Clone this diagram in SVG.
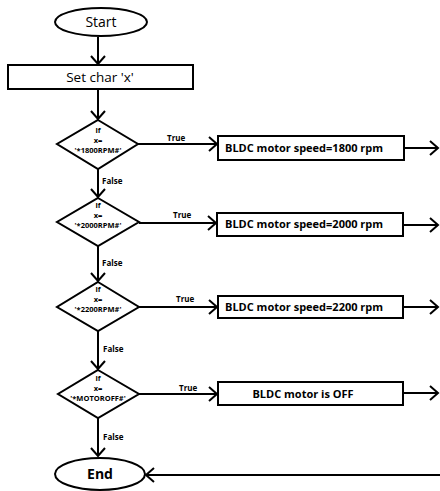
<svg xmlns="http://www.w3.org/2000/svg" width="440" height="491" viewBox="0 0 440 491">
<style>
.s{fill:#fff;stroke:#000;stroke-width:2}
.l{fill:none;stroke:#000;stroke-width:2}
text{font-family:"Open Sans","Liberation Sans",sans-serif;fill:#000}
.t{font-size:14px;text-anchor:middle}
.b{font-size:11px;font-weight:bold}
.d{font-size:7.5px;font-weight:bold;text-anchor:middle}
.lab{font-size:8px;font-weight:bold}
</style>
<defs>
<marker id="a" markerUnits="userSpaceOnUse" markerWidth="12" markerHeight="16" refX="9" refY="8" orient="auto" overflow="visible">
<path d="M1,1 L9,8 L1,15" fill="none" stroke="#000" stroke-width="2"/>
</marker>
</defs>
<g id="connectors">
<line class="l" x1="98" y1="37" x2="98" y2="64" marker-end="url(#a)"/>
<line class="l" x1="98" y1="89" x2="98" y2="119" marker-end="url(#a)"/>
<line class="l" x1="98" y1="169" x2="98" y2="197" marker-end="url(#a)"/>
<line class="l" x1="98" y1="246" x2="98" y2="281" marker-end="url(#a)"/>
<line class="l" x1="98" y1="331" x2="98" y2="369" marker-end="url(#a)"/>
<line class="l" x1="98" y1="418" x2="98" y2="456" marker-end="url(#a)"/>
<line class="l" x1="138" y1="144" x2="217" y2="144" marker-end="url(#a)"/>
<line class="l" x1="139" y1="223" x2="216" y2="223" marker-end="url(#a)"/>
<line class="l" x1="139" y1="307" x2="217" y2="307" marker-end="url(#a)"/>
<line class="l" x1="139" y1="394" x2="217" y2="394" marker-end="url(#a)"/>
<line class="l" x1="404" y1="148" x2="438" y2="148" marker-end="url(#a)"/>
<line class="l" x1="403" y1="225" x2="438" y2="225" marker-end="url(#a)"/>
<line class="l" x1="403" y1="307" x2="438" y2="307" marker-end="url(#a)"/>
<line class="l" x1="403" y1="393" x2="438" y2="393" marker-end="url(#a)"/>
<line class="l" x1="440" y1="475" x2="146" y2="475" marker-end="url(#a)"/>
<text class="lab" x="167" y="141">True</text>
<text class="lab" x="173" y="218">True</text>
<text class="lab" x="176" y="302">True</text>
<text class="lab" x="179" y="391">True</text>
<text class="lab" x="102" y="184">False</text>
<text class="lab" x="102" y="266">False</text>
<text class="lab" x="103" y="352">False</text>
<text class="lab" x="103" y="440">False</text>
</g>
<g id="start"><ellipse class="s" cx="101" cy="22" rx="46" ry="14"/><text class="t" x="101" y="27">Start</text></g>
<g id="setchar"><rect class="s" x="8" y="65" width="185" height="24"/><text class="t" x="100" y="82" style="font-size:13.5px">Set char 'x'</text></g>
<g id="dec1"><polygon class="s" points="98,120 138,144 98,169 57,144"/>
<text class="d" x="98" y="133">if</text><text class="d" x="98" y="143">x=</text><text class="d" x="98" y="153">'*1800RPM#'</text></g>
<g id="box1"><rect class="s" x="218" y="136" width="186" height="24"/><text class="b" x="225" y="152">BLDC motor speed=1800 rpm</text></g>
<g id="dec2"><polygon class="s" points="98,198 139,222 98,246 57,222"/>
<text class="d" x="98" y="208">if</text><text class="d" x="98" y="218">x=</text><text class="d" x="98" y="228">'*2000RPM#'</text></g>
<g id="box2"><rect class="s" x="217" y="213" width="186" height="23"/><text class="b" x="225" y="228">BLDC motor speed=2000 rpm</text></g>
<g id="dec3"><polygon class="s" points="98,282 139,307 98,331 57,307"/>
<text class="d" x="98" y="292">if</text><text class="d" x="98" y="302">x=</text><text class="d" x="98" y="312">'*2200RPM#'</text></g>
<g id="box3"><rect class="s" x="218" y="296" width="185" height="22"/><text class="b" x="225" y="311">BLDC motor speed=2200 rpm</text></g>
<g id="dec4"><polygon class="s" points="98,370 139,394 98,418 58,394"/>
<text class="d" x="98" y="381">if</text><text class="d" x="98" y="391">x=</text><text class="d" x="98" y="401">'*MOTOROFF#'</text></g>
<g id="box4"><rect class="s" x="218" y="382" width="185" height="23"/><text class="b" x="303" y="398" text-anchor="middle">BLDC motor is OFF</text></g>
<g id="end"><ellipse class="s" cx="100" cy="474" rx="45" ry="16"/><text class="t" x="100" y="479" style="font-weight:bold">End</text></g>
</svg>
